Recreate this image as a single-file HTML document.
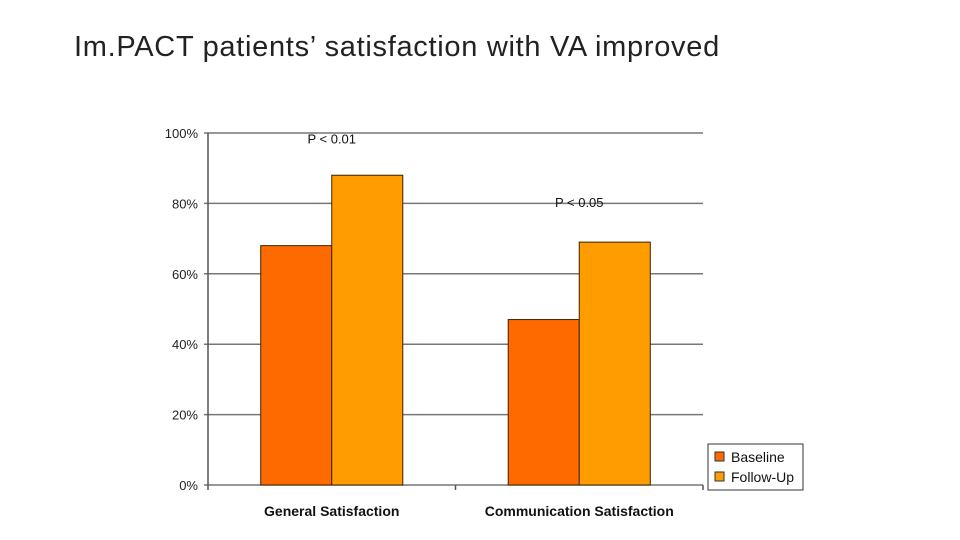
<!DOCTYPE html>
<html><head><meta charset="utf-8"><style>
body{margin:0;width:960px;height:540px;background:#fff;overflow:hidden;font-family:"Liberation Sans",sans-serif}
#title{position:absolute;left:74px;top:31px;font-size:29px;color:#222;font-weight:300;letter-spacing:0.7px;white-space:nowrap}
svg{position:absolute;left:0;top:0}
</style></head><body>
<div id="title">Im.PACT patients’ satisfaction with VA improved</div>
<svg id="chart" width="960" height="540"></svg>
<script>
const categories=["General Satisfaction","Communication Satisfaction"];
const seriesNames=["Baseline","Follow-Up"];
const baseline=[68,47];
const followUp=[88,69];
const yTicks=[0,20,40,60,80,100];
const pLabels=["P < 0.01","P < 0.05"];
const pLevels=[97,79];
const colors=["#ff6a00","#ff9d00"];
const svg=document.getElementById('chart');
const NS="http://www.w3.org/2000/svg";
const X0=208,X1=703,Y0=485,Y1=133;
function y(v){return Y0-(v/100)*(Y0-Y1);}
const band=(X1-X0)/categories.length;
function mk(t,a,p){const e=document.createElementNS(NS,t);for(const k in a)e.setAttribute(k,a[k]);(p||svg).appendChild(e);return e;}
yTicks.forEach(t=>{
 const l=mk('line',{x1:X0-4,x2:X1,y1:y(t),y2:y(t),stroke:'#777','stroke-width':1.5});
 
 
 const tx=mk('text',{x:X0-10,y:y(t)+5,'text-anchor':'end','font-size':13,fill:'#222'});
 tx.textContent=t+'%';
 
 
});
const ax=mk('line',{x1:X0,x2:X0,y1:Y1,y2:Y0,stroke:'#555','stroke-width':1.5});


for(let i=0;i<=categories.length;i++){
 const tk=mk('line',{x1:X0+i*band,x2:X0+i*band,y1:Y0,y2:Y0+5,stroke:'#555','stroke-width':1.5});
 
 
}
const series=[baseline,followUp];
const bw=band*0.287;
categories.forEach((c,i)=>{
 const cx=X0+band*(i+0.5);
 series.forEach((s,j)=>{
  const x=cx-bw+j*bw;
  const r=mk('rect',{x:x,y:y(s[i]),width:bw,height:Y0-y(s[i]),fill:colors[j],stroke:'#3a2200','stroke-width':1});
  
  
 });
 const lab=mk('text',{x:cx,y:516,'text-anchor':'middle','font-size':14,'font-weight':'bold',fill:'#111'});
 lab.textContent=c;
 
 
 const p=mk('text',{x:cx,y:y(pLevels[i]),'text-anchor':'middle','font-size':13,fill:'#111'});
 p.textContent=pLabels[i];
 
 
});
const lg=mk('rect',{x:708,y:444,width:95,height:46,fill:'#fff',stroke:'#333','stroke-width':1});


seriesNames.forEach((n,j)=>{
 const sw=mk('rect',{x:715,y:452+j*20,width:9,height:9,fill:colors[j],stroke:'#333','stroke-width':1});
 
 
 const t=mk('text',{x:731,y:462+j*20,'font-size':14,fill:'#111'});
 t.textContent=n;
 
 
});
</script>
</body></html>
